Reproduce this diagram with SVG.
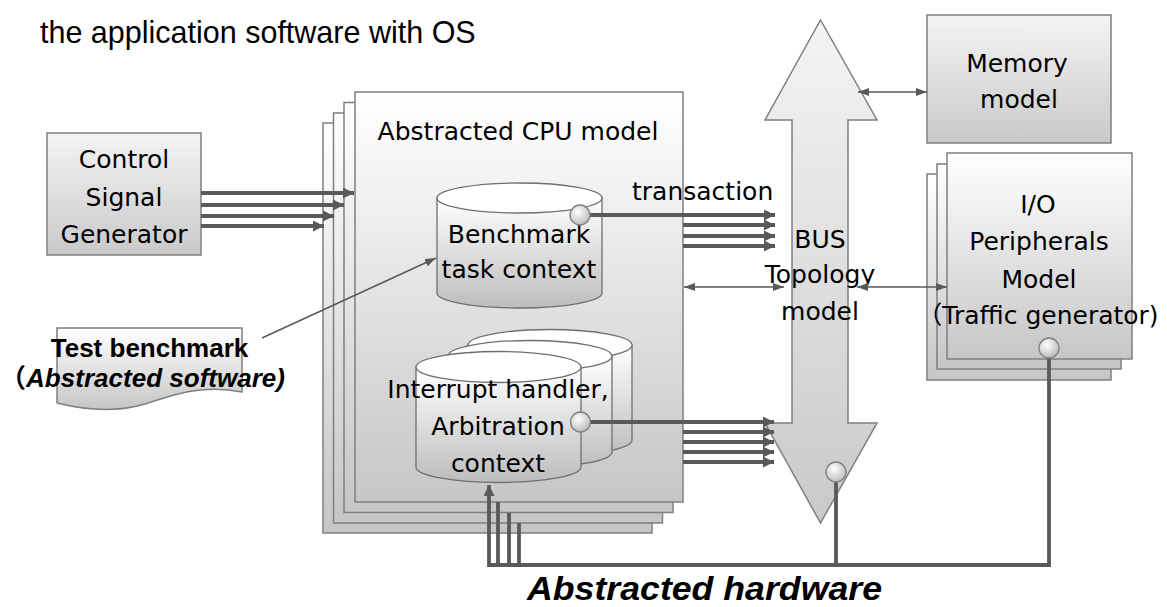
<svg xmlns="http://www.w3.org/2000/svg" width="1167" height="607" viewBox="0 0 1167 607">
  <defs>
    <linearGradient id="gBox" x1="0" y1="0" x2="0" y2="1">
      <stop offset="0" stop-color="#ffffff"/>
      <stop offset="1" stop-color="#c6c6c6"/>
    </linearGradient>
    <linearGradient id="gGray" x1="0" y1="0" x2="0" y2="1">
      <stop offset="0" stop-color="#f4f4f4"/>
      <stop offset="1" stop-color="#c9c9c9"/>
    </linearGradient>
    <linearGradient id="gCyl" x1="0" y1="0" x2="0" y2="1">
      <stop offset="0" stop-color="#ffffff"/>
      <stop offset="1" stop-color="#bdbdbd"/>
    </linearGradient>
    <radialGradient id="gPort" cx="0.4" cy="0.35" r="0.7">
      <stop offset="0" stop-color="#ffffff"/>
      <stop offset="1" stop-color="#b8b8b8"/>
    </radialGradient>
    <marker id="headThick" markerUnits="userSpaceOnUse" markerWidth="11" markerHeight="11" refX="11" refY="5.5" orient="auto">
      <path d="M0,0 L11,5.5 L0,11 Z" fill="#595959"/>
    </marker>
    <marker id="headThin" markerUnits="userSpaceOnUse" markerWidth="11" markerHeight="8" refX="11" refY="4" orient="auto-start-reverse">
      <path d="M0,0 L11,4 L0,8 Z" fill="#595959"/>
    </marker>
    <style>
      .box { stroke: #7f7f7f; stroke-width: 1.5; }
      .lbl { font-family: "DejaVu Sans", "Noto Sans CJK JP", sans-serif; font-size: 25px; fill: #000; text-anchor: middle; }
      .thick { stroke: #595959; stroke-width: 3.8; fill: none; }
      .thin { stroke: #595959; stroke-width: 1.5; fill: none; }
      .port { fill: url(#gPort); stroke: #7f7f7f; stroke-width: 1.3; }
      .cyl { fill: url(#gCyl); stroke: #6f6f6f; stroke-width: 1.3; }
      .cyltop { fill: #ffffff; stroke: #6f6f6f; stroke-width: 1.3; }
    </style>
  </defs>

  <rect width="1167" height="607" fill="#ffffff"/>

  <!-- heading -->
  <g id="title">
    <text x="40" y="43" font-family="Liberation Sans, Arial, sans-serif" font-size="30.5" fill="#000">the application software with OS</text>
  </g>

  <!-- control signal generator -->
  <g id="control-signal-generator">
    <rect class="box" x="47" y="133" width="154" height="122" fill="url(#gGray)"/>
    <text class="lbl" x="124" y="168">Control</text>
    <text class="lbl" x="124" y="206">Signal</text>
    <text class="lbl" x="124" y="243">Generator</text>
  </g>

  <!-- stacked CPU models -->
  <g id="cpu-model">
    <rect class="box" x="323" y="123" width="329" height="410" fill="url(#gBox)"/>
    <rect class="box" x="333.5" y="113" width="329" height="410" fill="url(#gBox)"/>
    <rect class="box" x="344" y="102.5" width="329" height="410" fill="url(#gBox)"/>
    <rect class="box" x="355" y="92" width="328" height="410" fill="url(#gBox)"/>
    <text class="lbl" x="518" y="140" font-size="26">Abstracted CPU model</text>
  </g>

  <!-- benchmark task context store -->
  <g id="benchmark-context">
    <path class="cyl" d="M437,198 V293 A82.5,15 0 0 0 602,293 V198 Z"/>
    <ellipse class="cyltop" cx="519.5" cy="198" rx="82.5" ry="15"/>
    <text class="lbl" x="519" y="243">Benchmark</text>
    <text class="lbl" x="519" y="278">task context</text>
  </g>

  <!-- interrupt handler / arbitration context stores -->
  <g id="interrupt-context">
    <path class="cyl" d="M468,345 V440 A82,15.5 0 0 0 632,440 V345 Z"/>
    <ellipse class="cyltop" cx="550" cy="345" rx="82" ry="15.5"/>
    <path class="cyl" d="M448,356 V452 A82,15.5 0 0 0 612,452 V356 Z"/>
    <ellipse class="cyltop" cx="530" cy="356" rx="82" ry="15.5"/>
    <path class="cyl" d="M416,367 V467 A82.5,15.5 0 0 0 581,467 V367 Z"/>
    <ellipse class="cyltop" cx="498.5" cy="367" rx="82.5" ry="15.5"/>
    <text class="lbl" x="498" y="398">Interrupt handler,</text>
    <text class="lbl" x="498" y="435">Arbitration</text>
    <text class="lbl" x="498" y="472">context</text>
  </g>

  <!-- test benchmark document -->
  <g id="test-benchmark">
    <path class="box" fill="url(#gBox)" d="M57,328 H242 V392 C205,384 175,394 145,404 C115,413 85,410 57,403 Z"/>
    <text x="149.5" y="357" font-family="Liberation Sans, Arial, sans-serif" font-size="26" font-weight="bold" text-anchor="middle" fill="#000">Test benchmark</text>
    <text x="0" y="387" font-family="Liberation Sans, Arial, 'Noto Sans CJK JP', sans-serif" font-size="26" font-weight="bold" fill="#000" textLength="285" lengthAdjust="spacingAndGlyphs"><tspan font-family="Noto Sans CJK JP, sans-serif">（</tspan><tspan font-style="italic">Abstracted software)</tspan></text>
  </g>

  <!-- bus topology (double arrow) -->
  <g id="bus">
    <path class="box" fill="url(#gGray)" d="M820.5,20 L877,120 H848 V423 H877 L820.5,523 L765,423 H792 V120 H765 Z"/>
    <text class="lbl" x="820" y="248">BUS</text>
    <text class="lbl" x="820" y="283">Topology</text>
    <text class="lbl" x="820" y="320">model</text>
  </g>

  <!-- memory model -->
  <g id="memory-model">
    <rect class="box" x="927" y="15" width="184" height="128" fill="url(#gGray)"/>
    <text class="lbl" x="1017" y="72">Memory</text>
    <text class="lbl" x="1019" y="108">model</text>
  </g>

  <!-- stacked I/O peripheral models -->
  <g id="io-peripherals">
    <rect class="box" x="927" y="174" width="184" height="206" fill="url(#gBox)"/>
    <rect class="box" x="937" y="164" width="184" height="205" fill="url(#gBox)"/>
    <rect class="box" x="947" y="153" width="185" height="206" fill="url(#gBox)"/>
    <text class="lbl" x="1038" y="213">I/O</text>
    <text class="lbl" x="1039" y="250">Peripherals</text>
    <text class="lbl" x="1039" y="288">Model</text>
    <text class="lbl" x="1038" y="324">（Traffic generator)</text>
  </g>

  <!-- connectors -->
  <g id="connectors">
    <!-- control signals into the CPU stack -->
    <line class="thick" x1="201" y1="193" x2="354" y2="193" marker-end="url(#headThick)"/>
    <line class="thick" x1="201" y1="205" x2="344" y2="205" marker-end="url(#headThick)"/>
    <line class="thick" x1="201" y1="216" x2="334" y2="216" marker-end="url(#headThick)"/>
    <line class="thick" x1="201" y1="226" x2="324" y2="226" marker-end="url(#headThick)"/>

    <!-- transactions to the bus -->
    <line class="thick" x1="590" y1="215" x2="775" y2="215" marker-end="url(#headThick)"/>
    <line class="thick" x1="683" y1="225" x2="775" y2="225" marker-end="url(#headThick)"/>
    <line class="thick" x1="683" y1="236" x2="775" y2="236" marker-end="url(#headThick)"/>
    <line class="thick" x1="683" y1="246" x2="775" y2="246" marker-end="url(#headThick)"/>
    <text x="632" y="200" font-family="DejaVu Sans, sans-serif" font-size="25" fill="#000">transaction</text>

    <line class="thick" x1="590" y1="422" x2="774" y2="422" marker-end="url(#headThick)"/>
    <line class="thick" x1="683" y1="432" x2="774" y2="432" marker-end="url(#headThick)"/>
    <line class="thick" x1="683" y1="442" x2="774" y2="442" marker-end="url(#headThick)"/>
    <line class="thick" x1="683" y1="452" x2="774" y2="452" marker-end="url(#headThick)"/>
    <line class="thick" x1="683" y1="462" x2="774" y2="462" marker-end="url(#headThick)"/>

    <!-- bidirectional links -->
    <line class="thin" x1="858" y1="92" x2="927" y2="92" marker-start="url(#headThin)" marker-end="url(#headThin)"/>
    <line class="thin" x1="684" y1="287" x2="784" y2="287" marker-start="url(#headThin)" marker-end="url(#headThin)"/>
    <line class="thin" x1="857" y1="287" x2="947" y2="287" marker-start="url(#headThin)" marker-end="url(#headThin)"/>

    <!-- test benchmark into the task context -->
    <line class="thin" x1="262" y1="338" x2="436" y2="258" marker-end="url(#headThin)"/>

    <!-- hardware interrupt lines -->
    <polyline class="thick" points="1049,358 1049,565 489,565 489,485" marker-end="url(#headThick)"/>
    <line class="thick" x1="836" y1="482" x2="836" y2="565"/>
    <line class="thick" x1="498" y1="565" x2="498" y2="502"/>
    <line class="thick" x1="509" y1="565" x2="509" y2="513"/>
    <line class="thick" x1="519" y1="565" x2="519" y2="523"/>

    <!-- ports -->
    <circle class="port" cx="580" cy="215" r="10"/>
    <circle class="port" cx="580.5" cy="422" r="10"/>
    <circle class="port" cx="836" cy="472" r="10"/>
    <circle class="port" cx="1049" cy="348" r="10"/>
  </g>

  <!-- caption -->
  <g id="hw-label">
    <text x="527" y="600" font-family="Liberation Sans, Arial, sans-serif" font-size="33" font-weight="bold" font-style="italic" fill="#000" textLength="355" lengthAdjust="spacingAndGlyphs">Abstracted hardware</text>
  </g>
</svg>
